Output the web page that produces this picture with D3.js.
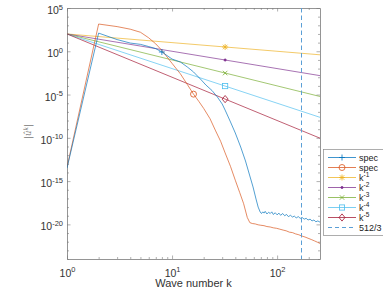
<!DOCTYPE html>
<html><head><meta charset="utf-8">
<script src="https://cdn.jsdelivr.net/npm/d3@7"></script>
<style>body{margin:0;background:#fff;overflow:hidden}svg{display:block}</style>
</head><body>
<svg id="c" width="383" height="294"></svg>
<script>
// ---------- data ----------
const spec1K = [1,2,3,4,5,6,7,8,10,12,14,16,19,21,24,27,30,32,36,40,45,50,55,59,63,66,69,
  71,73,75,77,80,83,86,89,92,96,100,104,108,113,118,123,128,134,140,146,152,159,166,173,181,189,197,206,215,224,234,244,256];
const spec1V = [3.2e-14,126,22.4,8.9,6.3,3.5,2.0,0.83,0.126,0.058,0.015,4.1e-3,4.8e-4,1.26e-4,2.95e-5,5.2e-6,8.1e-7,1.6e-7,6.8e-9,3.6e-10,8.7e-12,2.1e-13,3.9e-15,2.1e-16,8.5e-18,1.0e-18,2.7e-19,
  1.8e-19,2.8e-19,2.0e-19,3.2e-19,1.6e-19,2.5e-19,1.8e-19,2.8e-19,1.4e-19,2.2e-19,1.26e-19,2.0e-19,1.12e-19,1.8e-19,1.0e-19,1.4e-19,7.9e-20,1.12e-19,7.1e-20,8.9e-20,5.6e-20,7.9e-20,5.0e-20,6.3e-20,4.0e-20,5.0e-20,3.2e-20,4.0e-20,2.5e-20,3.2e-20,2.0e-20,2.5e-20,1.8e-20];
const spec2K = [1,2,3,4,5,6,7,8,10,12,14,16,18,20,23,26,29,32,36,40,44,48,52,55,
  58,62,66,70,75,80,86,92,99,106,114,122,131,140,150,161,172,184,197,211,226,241,256];
const spec2V = [4.0e-14,1410,708,355,158,35.5,7.1,1.26,0.040,2.5e-3,1.4e-4,1.12e-5,1.6e-6,2.5e-7,1.6e-8,6.3e-10,4.0e-11,1.8e-12,5.0e-14,1.26e-15,5.0e-17,2.5e-18,6.3e-20,1.6e-20,
  1.26e-20,1.12e-20,8.9e-21,7.9e-21,7.1e-21,5.6e-21,5.0e-21,4.0e-21,3.5e-21,2.8e-21,2.2e-21,1.8e-21,1.26e-21,1.12e-21,7.9e-22,6.3e-22,4.5e-22,3.5e-22,2.5e-22,1.8e-22,1.26e-22,8.9e-23,6.3e-23];
const spec1MarkK = [8], spec1MarkV = [0.83];
const spec2MarkK = [16], spec2MarkV = [1.12e-5];
const refK = [1, 256];
const ref1V = [100, 0.390625];
const ref2V = [100, 1.526e-3];
const ref3V = [100, 5.96e-6];
const ref4V = [100, 2.33e-8];
const ref5V = [100, 9.09e-11];
const refMarkK = 32;
const refMarkV = [3.125, 0.0977, 3.05e-3, 9.54e-5, 2.98e-6];
const cutoffK = 512/3;
const xMajor = [1, 10, 100];
const xMajorExp = ["0", "1", "2"];
const xMinor = [2,3,4,5,6,7,8,9,20,30,40,50,60,70,80,90,200];
const yMajor = [1e5, 1e0, 1e-5, 1e-10, 1e-15, 1e-20];
const yMajorExp = ["5", "0", "-5", "-10", "-15", "-20"];
const legendLabels = [["spec",""],["spec",""],["k","-1"],["k","-2"],["k","-3"],["k","-4"],["k","-5"],["512/3",""]];
const xLabel = "Wave number k";

// ---------- layout ----------
const L = 67, R = 320, T = 8, B = 259;
const colors = {blue:"#0072BD", orange:"#D95319", yellow:"#EDB120", purple:"#7E2F8E", green:"#77AC30", cyan:"#4DBEEE", red:"#A2142F", dash:"#5b9fd6"};
const FONT = "'Liberation Sans', Arial, sans-serif";
const svg = d3.select("#c");
const x = d3.scaleLog().domain([1, 256]).range([L, R]);
const y = d3.scaleLog().domain([1e-24, 1e5]).range([B, T]);

svg.append("defs").append("clipPath").attr("id","clip")
  .append("rect").attr("x",L).attr("y",T).attr("width",R-L).attr("height",B-T);

const yMinor = d3.range(-24, 6).map(e => Math.pow(10, e)).filter(v => !yMajor.some(m => Math.abs(Math.log10(m) - Math.log10(v)) < 1e-9));

const axisColor = "#7a7a7a";
function styleAxis(g){
  g.selectAll("path.domain").attr("stroke", axisColor).attr("stroke-width", 0.8);
  g.selectAll(".tick line").attr("stroke", axisColor).attr("stroke-width", 0.6);
}
function minorAxis(axis, tr){
  svg.append("g").attr("transform", tr)
    .call(axis.tickSize(-2).tickSizeOuter(0).tickFormat(""))
    .call(g => g.select(".domain").remove()).call(styleAxis);
}
const gxb = svg.append("g").attr("transform",`translate(0,${B})`)
  .call(d3.axisBottom(x).tickValues(xMajor).tickSize(-3.5).tickSizeOuter(0).tickFormat("")).call(styleAxis);
minorAxis(d3.axisBottom(x).tickValues(xMinor), `translate(0,${B})`);
svg.append("g").attr("transform",`translate(0,${T})`)
  .call(d3.axisTop(x).tickValues(xMajor).tickSize(-3.5).tickSizeOuter(0).tickFormat("")).call(styleAxis);
minorAxis(d3.axisTop(x).tickValues(xMinor), `translate(0,${T})`);
const gyl = svg.append("g").attr("transform",`translate(${L},0)`)
  .call(d3.axisLeft(y).tickValues(yMajor).tickSize(-3.5).tickSizeOuter(0).tickFormat("")).call(styleAxis);
minorAxis(d3.axisLeft(y).tickValues(yMinor), `translate(${L},0)`);
svg.append("g").attr("transform",`translate(${R},0)`)
  .call(d3.axisRight(y).tickValues(yMajor).tickSize(-3.5).tickSizeOuter(0).tickFormat("")).call(styleAxis);
minorAxis(d3.axisRight(y).tickValues(yMinor), `translate(${R},0)`);

const textColor = "#333";
gxb.selectAll(".tick").each(function(d, i){
  const t = d3.select(this).append("text").attr("y", 17.5).attr("text-anchor","middle")
    .attr("font-family", FONT).attr("font-size", 10.5).attr("fill", textColor);
  t.append("tspan").text("10");
  t.append("tspan").attr("font-size", 7.5).attr("dy", -4.5).text(xMajorExp[i]);
});
gyl.selectAll(".tick").each(function(d, i){
  const t = d3.select(this).append("text").attr("x", -4).attr("y", 5.5).attr("text-anchor","end")
    .attr("font-family", FONT).attr("font-size", 10.5).attr("fill", textColor);
  t.append("tspan").text("10");
  t.append("tspan").attr("font-size", 7.5).attr("dy", -4.5).text(yMajorExp[i]);
});
svg.append("text").attr("x", (L+R)/2).attr("y", 287).attr("text-anchor","middle")
  .attr("font-family", FONT).attr("font-size", 11).attr("fill", textColor).text(xLabel);
const yl = svg.append("text").attr("transform", `translate(31,${(T+B)/2 - 2}) rotate(-90)`).attr("text-anchor","middle")
  .attr("font-family", "'DejaVu Serif', serif").attr("font-style","italic").attr("font-size", 8.5).attr("fill", "#777");
yl.append("tspan").text("|û");
yl.append("tspan").attr("font-size", 6).attr("dy", -3).text("k");
yl.append("tspan").attr("dy", 3).text("|");

// ---------- marks ----------
const plot = svg.append("g").attr("clip-path","url(#clip)");
const line = d3.line().x(d => x(d[0])).y(d => y(d[1]));
const SW = 0.75;
function drawLine(ks, vs, color){
  plot.append("path").datum(ks.map((k,i)=>[k, vs[i]])).attr("d", line)
    .attr("fill","none").attr("stroke", color).attr("stroke-width", SW).attr("stroke-opacity", 0.9);
}
function marker(g, type, cx, cy, color){
  const s = 3;
  const m = g.append("g").attr("transform", `translate(${cx},${cy})`).attr("stroke", color).attr("stroke-width", 0.8).attr("fill","none");
  if (type === "+" || type === "*") { m.append("line").attr("x1",-s).attr("x2",s).attr("y1",0).attr("y2",0); m.append("line").attr("y1",-s).attr("y2",s).attr("x1",0).attr("x2",0); }
  if (type === "x" || type === "*") { const d = s*0.75; m.append("line").attr("x1",-d).attr("y1",-d).attr("x2",d).attr("y2",d); m.append("line").attr("x1",-d).attr("y1",d).attr("x2",d).attr("y2",-d); }
  if (type === "o") m.append("circle").attr("r", s);
  if (type === ".") m.append("circle").attr("r", 1.1).attr("fill", color);
  if (type === "s") m.append("rect").attr("x",-2.6).attr("y",-2.6).attr("width",5.2).attr("height",5.2);
  if (type === "d") m.append("path").attr("d", `M0,${-s-0.6}L${s},0L0,${s+0.6}L${-s},0Z`);
}

const refSeries = [ref1V, ref2V, ref3V, ref4V, ref5V];
const refColors = [colors.yellow, colors.purple, colors.green, colors.cyan, colors.red];
const refMarkers = ["*", ".", "x", "s", "d"];
refSeries.forEach((v, i) => drawLine(refK, v, refColors[i]));
drawLine(spec2K, spec2V, colors.orange);
drawLine(spec1K, spec1V, colors.blue);
plot.append("line").attr("x1", x(cutoffK)).attr("x2", x(cutoffK)).attr("y1", T).attr("y2", B)
  .attr("stroke", colors.dash).attr("stroke-width", 1).attr("stroke-dasharray","4.5,3");

spec1MarkK.forEach((k,i)=>marker(plot, "+", x(k), y(spec1MarkV[i]), colors.blue));
spec2MarkK.forEach((k,i)=>marker(plot, "o", x(k), y(spec2MarkV[i]), colors.orange));
refMarkV.forEach((v,i)=>marker(plot, refMarkers[i], x(refMarkK), y(v), refColors[i]));

// ---------- legend ----------
const lg = svg.append("g");
lg.append("rect").attr("x", 323.5).attr("y", 149.5).attr("width", 80).attr("height", 86)
  .attr("fill","#fff").attr("stroke", "#8a8a8a").attr("stroke-width", 0.7);
const legColors = [colors.blue, colors.orange].concat(refColors).concat([colors.dash]);
const legMarkers = ["+", "o"].concat(refMarkers).concat([null]);
legendLabels.forEach((lab, i) => {
  const yy = 157.5 + i*10;
  lg.append("line").attr("x1", 328).attr("x2", 356).attr("y1", yy).attr("y2", yy)
    .attr("stroke", legColors[i]).attr("stroke-width", i === 7 ? 1 : SW).attr("stroke-dasharray", i === 7 ? "4,3" : null);
  if (legMarkers[i]) marker(lg, legMarkers[i], 342, yy, legColors[i]);
  const t = lg.append("text").attr("x", 359).attr("y", yy + 3).attr("font-family", FONT)
    .attr("font-size", 9).attr("fill", "#222");
  t.append("tspan").text(lab[0]);
  if (lab[1]) t.append("tspan").attr("font-size", 6.5).attr("dy", -3.5).text(lab[1]);
});
</script>
</body></html>
